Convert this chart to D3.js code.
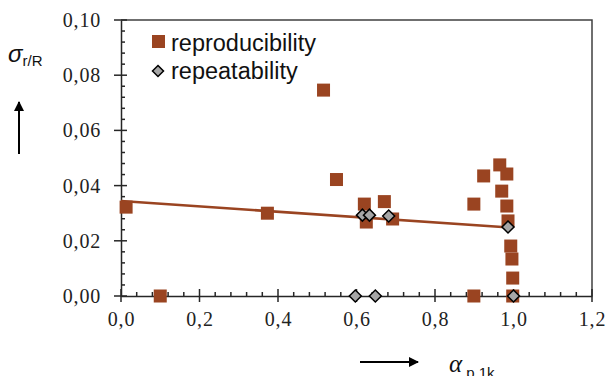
<!DOCTYPE html>
<html>
<head>
<meta charset="utf-8">
<script src="https://cdn.jsdelivr.net/npm/d3@7"></script>
<style>
  body { margin: 0; background: #fff; }
  svg { display: block; }
</style>
</head>
<body>
<div id="chart"></div>
<script>
// reproducibility (squares)
const reproX = [0.013, 0.10, 0.373, 0.516, 0.549, 0.620, 0.625, 0.671, 0.692, 0.899, 0.899,
                0.924, 0.965, 0.970, 0.983, 0.983, 0.986, 0.993, 0.996, 0.998, 0.998];
const reproY = [0.0322, 0.0, 0.0300, 0.0746, 0.0422, 0.0333, 0.0268, 0.0342, 0.0279, 0.0333, 0.0,
                0.0435, 0.0475, 0.0380, 0.0442, 0.0326, 0.0272, 0.0181, 0.0134, 0.0065, 0.0];
// repeatability (diamonds)
const repeatX = [0.597, 0.615, 0.633, 0.648, 0.682, 0.986, 1.0];
const repeatY = [0.0, 0.0293, 0.0293, 0.0, 0.0290, 0.0250, 0.0];
// linear trend line
const trendX = [0.0, 0.99];
const trendY = [0.0344, 0.0248];

const xTicks = [0, 0.2, 0.4, 0.6, 0.8, 1.0, 1.2];
const yTicks = [0, 0.02, 0.04, 0.06, 0.08, 0.10];
const seriesNames = ['reproducibility', 'repeatability'];

const width = 607, height = 376;
const brown = '#9a4421';

const svg = d3.select('#chart').append('svg')
  .attr('width', width).attr('height', height);

const x = d3.scaleLinear().domain([0, 1.2]).range([121, 592]);
const y = d3.scaleLinear().domain([0, 0.10]).range([296, 20]);

const fmt = (d, n) => d.toFixed(n).replace('.', ',');

function styleTicks(g) {
  g.selectAll('.tick text')
    .style('font-family', '"Liberation Serif", "Times New Roman", serif')
    .style('font-size', '20px')
    .style('letter-spacing', '0.8px')
    .attr('fill', '#222');
  g.select('.domain').attr('stroke', '#262626').attr('stroke-width', 1.5);
}

// frame (top + right)
svg.append('path')
  .attr('d', `M${x(0)},${y(0.10)}H${x(1.2)}V${y(0)}`)
  .attr('fill', 'none').attr('stroke', '#404040').attr('stroke-width', 1.5);

// x axis
const xAxis = svg.append('g').attr('transform', `translate(0,${y(0)})`);
xAxis.call(d3.axisBottom(x).tickValues(xTicks).tickSize(0).tickFormat(d => fmt(d, 1)).tickPadding(16));
styleTicks(xAxis);
const xMinor = d3.range(0, 1.2001, 0.04);
xAxis.selectAll('.minor').data(xMinor).join('line')
  .attr('x1', d => x(d)).attr('x2', d => x(d))
  .attr('y1', d => (Math.round(d * 100) % 20 === 0) ? 6 : 0)
  .attr('y2', d => (Math.round(d * 100) % 20 === 0) ? -7 : -4)
  .attr('stroke', '#262626').attr('stroke-width', 1.5);

// y axis
const yAxis = svg.append('g').attr('transform', `translate(${x(0)},0)`);
yAxis.call(d3.axisLeft(y).tickValues(yTicks).tickSize(0).tickFormat(d => fmt(d, 2)).tickPadding(20));
styleTicks(yAxis);
const yMinor = d3.range(0, 0.1001, 0.004);
yAxis.selectAll('.minor').data(yMinor).join('line')
  .attr('y1', d => y(d)).attr('y2', d => y(d))
  .attr('x1', d => (Math.round(d * 1000) % 20 === 0) ? -7 : 0)
  .attr('x2', d => (Math.round(d * 1000) % 20 === 0) ? 6 : 4)
  .attr('stroke', '#262626').attr('stroke-width', 1.5);

// trend line
svg.append('line')
  .attr('x1', x(trendX[0])).attr('y1', y(trendY[0]))
  .attr('x2', x(trendX[1])).attr('y2', y(trendY[1]))
  .attr('stroke', brown).attr('stroke-width', 2.5);

// reproducibility squares
const sq = 13;
svg.append('g').selectAll('rect')
  .data(reproX.map((d, i) => [d, reproY[i]]))
  .join('rect')
  .attr('x', d => x(d[0]) - sq / 2).attr('y', d => y(d[1]) - sq / 2)
  .attr('width', sq).attr('height', sq)
  .attr('fill', brown);

// repeatability diamonds
const diamond = (cx, cy, r) => `M${cx},${cy - r}L${cx + r},${cy}L${cx},${cy + r}L${cx - r},${cy}Z`;
svg.append('g').selectAll('path')
  .data(repeatX.map((d, i) => [d, repeatY[i]]))
  .join('path')
  .attr('d', d => diamond(x(d[0]), y(d[1]), 6))
  .attr('fill', '#a6a6a6').attr('stroke', '#000').attr('stroke-width', 1.5);

// legend
const legend = svg.append('g').style('font-family', '"Liberation Sans", Arial, sans-serif').style('font-size', '23.5px').attr('fill', '#111');
legend.append('rect').attr('x', 152).attr('y', 35).attr('width', 13).attr('height', 13).attr('fill', brown);
legend.append('text').attr('x', 171).attr('y', 51).text(seriesNames[0]);
legend.append('path').attr('d', diamond(158, 71, 5.5)).attr('fill', '#a6a6a6').attr('stroke', '#000').attr('stroke-width', 1.5);
legend.append('text').attr('x', 171).attr('y', 79).text(seriesNames[1]);

// y label: sigma r/R with arrow
const yl = svg.append('text').attr('x', 8).attr('y', 62).style('font-family', '"Liberation Sans", Arial, sans-serif').attr('fill', '#111');
yl.append('tspan').style('font-size', '24px').style('font-style', 'italic').text('σ');
yl.append('tspan').style('font-size', '15px').attr('dy', 4).text('r/R');

const defs = svg.append('defs');
defs.append('marker').attr('id', 'arr').attr('viewBox', '0 0 10 10').attr('refX', 9).attr('refY', 5)
  .attr('markerWidth', 5).attr('markerHeight', 5).attr('orient', 'auto')
  .append('path').attr('d', 'M0,0L10,5L0,10Z').attr('fill', '#000');
svg.append('line').attr('x1', 19).attr('y1', 154).attr('x2', 19).attr('y2', 102)
  .attr('stroke', '#000').attr('stroke-width', 2).attr('marker-end', 'url(#arr)');

// x label: alpha p,1k with arrow
svg.append('line').attr('x1', 360).attr('y1', 362).attr('x2', 418).attr('y2', 362)
  .attr('stroke', '#000').attr('stroke-width', 2).attr('marker-end', 'url(#arr)');
const xl = svg.append('text').attr('x', 449).attr('y', 372).style('font-family', '"Liberation Serif", serif').attr('fill', '#111');
xl.append('tspan').style('font-size', '25px').style('font-style', 'italic').text('α');
xl.append('tspan').style('font-size', '15px').attr('dx', 4).attr('dy', 6).style('font-family', '"Liberation Sans", Arial, sans-serif').text('p,1k');
</script>
</body>
</html>
